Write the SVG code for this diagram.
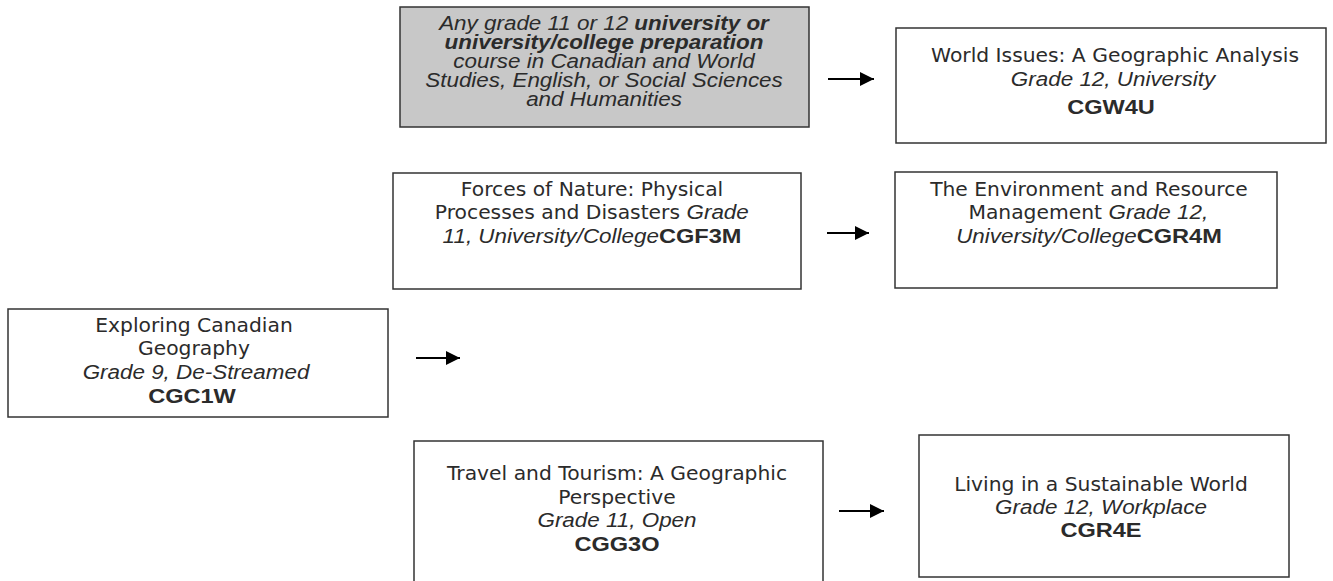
<svg xmlns="http://www.w3.org/2000/svg" width="1333" height="581" viewBox="0 0 1333 581">
<style>
.box{fill:#fff;stroke:#333;stroke-width:1.5}
.grey{fill:#c8c8c8}
text{fill:#2b2b2b;text-anchor:middle}
.r{font-family:"DejaVu Sans",Verdana,sans-serif;font-size:20.3px}
.i{font-family:"Liberation Sans",Arial,sans-serif;font-size:19.5px;font-style:italic}
.b{font-family:"Liberation Sans",Arial,sans-serif;font-size:20.5px;font-weight:bold;font-style:normal}
.bi{font-weight:bold}
.s{text-anchor:start}
.e{text-anchor:end}
.line{stroke:#000;stroke-width:2;fill:none}
</style>
<defs>
<marker id="ah" viewBox="0 0 10 10" refX="10" refY="5" markerWidth="7" markerHeight="7" markerUnits="strokeWidth" orient="auto">
<path d="M0,0 L10,5 L0,10 z" fill="#000"/>
</marker>
</defs>
<rect width="1333" height="581" fill="#fff"/>

<g id="node-prereq">
<rect class="box grey" x="400" y="7" width="409" height="120"/>
<text class="i" transform="translate(604,30) scale(1.15,1)">Any grade 11 or 12 <tspan class="bi">university or</tspan></text>
<text class="i bi" transform="translate(604,49) scale(1.15,1)">university/college preparation</text>
<text class="i" transform="translate(604,68) scale(1.15,1)">course in Canadian and World</text>
<text class="i" transform="translate(604,87) scale(1.15,1)">Studies, English, or Social Sciences</text>
<text class="i" transform="translate(604,106) scale(1.15,1)">and Humanities</text>
</g>

<g id="node-cgw4u">
<rect class="box" x="896" y="28" width="430" height="115"/>
<text class="r" x="1115" y="62">World Issues: A Geographic Analysis</text>
<text class="i" transform="translate(1113,86) scale(1.15,1)">Grade 12, University</text>
<text class="b" transform="translate(1111,114) scale(1.15,1)">CGW4U</text>
</g>

<g id="node-cgf3m">
<rect class="box" x="393" y="173" width="408" height="116"/>
<text class="r" x="592" y="196">Forces of Nature: Physical</text>
<text class="r e" x="680" y="219">Processes and Disasters</text>
<text class="i s" transform="translate(686.5,219) scale(1.15,1)">Grade</text>
<text class="i" transform="translate(592,243) scale(1.15,1)">11, University/College<tspan class="b">CGF3M</tspan></text>
</g>

<g id="node-cgr4m">
<rect class="box" x="895" y="172" width="382" height="116"/>
<text class="r" x="1089" y="196">The Environment and Resource</text>
<text class="r e" x="1102" y="219">Management</text>
<text class="i s" transform="translate(1108.5,219) scale(1.15,1)">Grade 12,</text>
<text class="i" transform="translate(1089,243) scale(1.15,1)">University/College<tspan class="b">CGR4M</tspan></text>
</g>

<g id="node-cgc1w">
<rect class="box" x="8" y="309" width="380" height="108"/>
<text class="r" x="194" y="332">Exploring Canadian</text>
<text class="r" x="194" y="355">Geography</text>
<text class="i" transform="translate(196,379) scale(1.15,1)">Grade 9, De-Streamed</text>
<text class="b" transform="translate(192,403) scale(1.15,1)">CGC1W</text>
</g>

<g id="node-cgg3o">
<rect class="box" x="414" y="441" width="409" height="150"/>
<text class="r" x="617" y="480">Travel and Tourism: A Geographic</text>
<text class="r" x="617" y="504">Perspective</text>
<text class="i" transform="translate(617,527) scale(1.15,1)">Grade 11, Open</text>
<text class="b" transform="translate(617,551) scale(1.15,1)">CGG3O</text>
</g>

<g id="node-cgr4e">
<rect class="box" x="919" y="435" width="370" height="142"/>
<text class="r" x="1101" y="491">Living in a Sustainable World</text>
<text class="i" transform="translate(1101,514) scale(1.15,1)">Grade 12, Workplace</text>
<text class="b" transform="translate(1101,537) scale(1.15,1)">CGR4E</text>
</g>

<g id="connectors">
<line class="line" x1="828" y1="79" x2="874" y2="79" marker-end="url(#ah)"/>
<line class="line" x1="827" y1="233" x2="869" y2="233" marker-end="url(#ah)"/>
<line class="line" x1="416" y1="358" x2="460" y2="358" marker-end="url(#ah)"/>
<line class="line" x1="839" y1="511" x2="884" y2="511" marker-end="url(#ah)"/>
</g>
</svg>
